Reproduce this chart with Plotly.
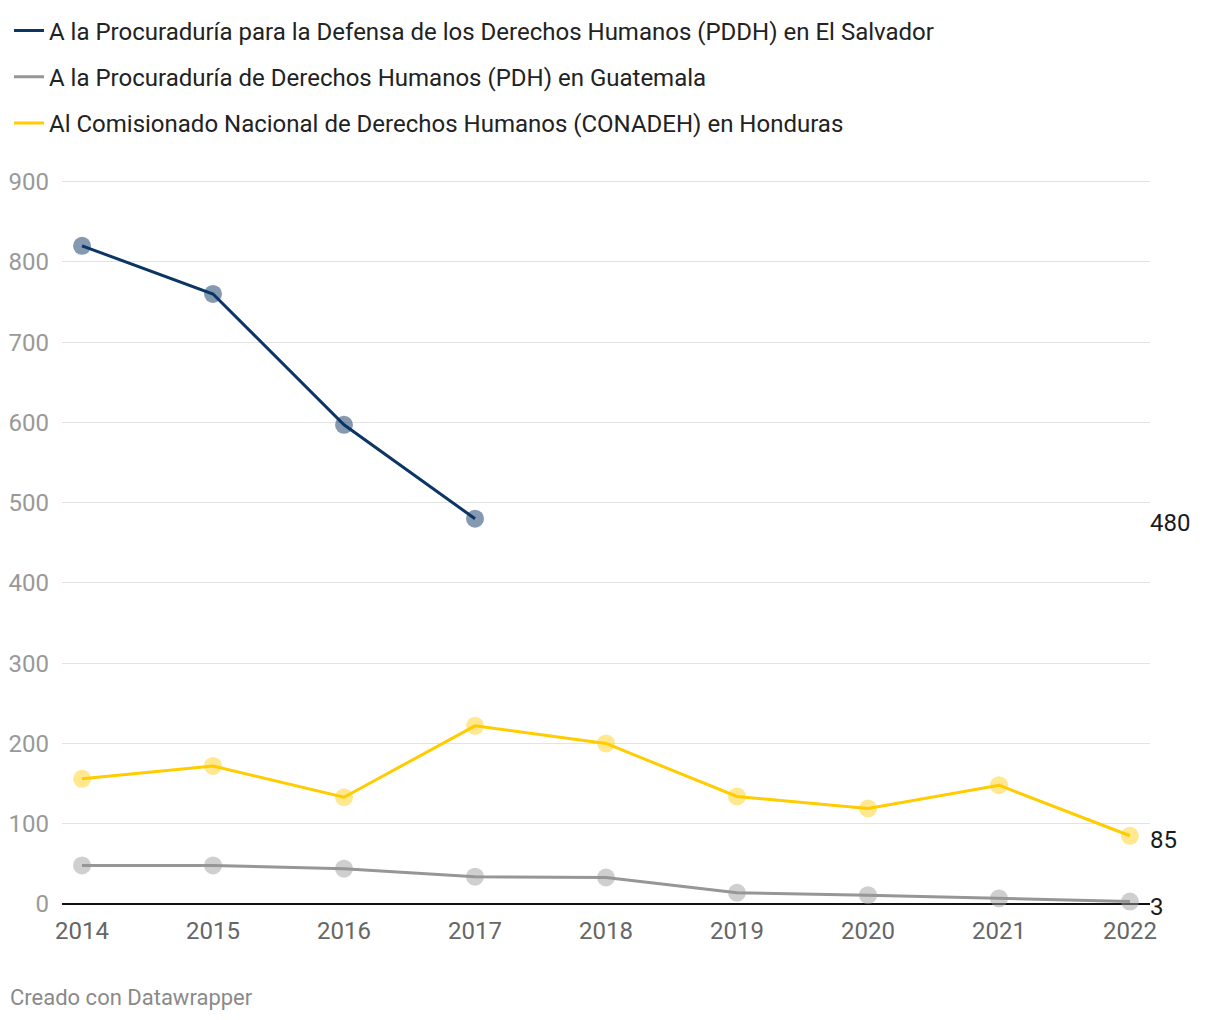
import plotly.graph_objects as go

years = [2014, 2015, 2016, 2017, 2018, 2019, 2020, 2021, 2022]
el_salvador = [820, 760, 597, 480, None, None, None, None, None]
guatemala = [48, 48, 44, 34, 33, 14, 11, 7, 3]
honduras = [156, 172, 133, 222, 200, 134, 119, 148, 85]

names = [
    "A la Procuraduría para la Defensa de los Derechos Humanos (PDDH) en El Salvador",
    "A la Procuraduría de Derechos Humanos (PDH) en Guatemala",
    "Al Comisionado Nacional de Derechos Humanos (CONADEH) en Honduras",
]
line_colors = ["#0b3564", "#969696", "#ffcc00"]
marker_colors = ["rgba(11,53,100,0.5)", "rgba(160,160,160,0.5)", "rgba(255,214,51,0.55)"]
series = [el_salvador, guatemala, honduras]
end_labels = ["480", "3", "85"]
end_values = [480, 3, 85]
end_shift = [-4, -5, -4]
y_ticks = list(range(0, 1000, 100))

FONT = "Roboto"
FS = 24
fig = go.Figure()

# markers underneath
for s, mc in zip(series, marker_colors):
    fig.add_trace(go.Scatter(
        x=years, y=s, mode="markers",
        marker=dict(size=18, color=mc, line=dict(width=0)),
        showlegend=False, hoverinfo="skip", cliponaxis=False,
    ))

# lines on top
for i, (s, lc, nm) in enumerate(zip(series, line_colors, names)):
    fig.add_trace(go.Scatter(
        x=years, y=s, mode="lines", name=nm,
        line=dict(color=lc, width=3),
        legendgroup=f"g{i}", cliponaxis=False,
    ))

for lab, v, sh in zip(end_labels, end_values, end_shift):
    fig.add_annotation(
        x=1, xref="paper", y=v, yref="y", text=lab, showarrow=False,
        xanchor="left", yanchor="middle", yshift=sh, xshift=-2,
        font=dict(family=FONT, size=FS, color="#1a1a1a"),
    )

fig.add_annotation(
    x=-0.0496, xref="paper", y=-0.1285, yref="paper", text="Creado con Datawrapper",
    showarrow=False, xanchor="left", yanchor="middle",
    font=dict(family=FONT, size=22, color="#8a8a8a"),
)

fig.update_layout(
    width=1212, height=1012,
    margin=dict(l=54, r=70, t=172, b=116, autoexpand=False),
    paper_bgcolor="white", plot_bgcolor="white",
    font=dict(family=FONT, size=FS, color="#333333"),
    showlegend=True,
    legend=dict(
        x=-0.0487, y=1.237, xanchor="left", yanchor="top",
        orientation="v", tracegroupgap=12,
        font=dict(family=FONT, size=FS, color="#222222"),
        itemwidth=30, bgcolor="rgba(0,0,0,0)",
    ),
    xaxis=dict(
        range=[2013.847, 2022.153], tickmode="array", tickvals=years,
        ticktext=[str(y) for y in years], showgrid=False, zeroline=False,
        showline=False, ticks="", automargin=False,
        tickfont=dict(family=FONT, size=FS, color="#666666"),
        ticklabelstandoff=10,
    ),
    yaxis=dict(
        range=[0, 902], tickmode="array", tickvals=y_ticks,
        showgrid=True, gridcolor="#e3e3e3", gridwidth=1,
        zeroline=True, zerolinecolor="#111111", zerolinewidth=2,
        showline=False, ticks="", automargin=False,
        tickfont=dict(family=FONT, size=FS, color="#999999"),
        ticklabelstandoff=12,
    ),
)

fig.write_html("out.html")
